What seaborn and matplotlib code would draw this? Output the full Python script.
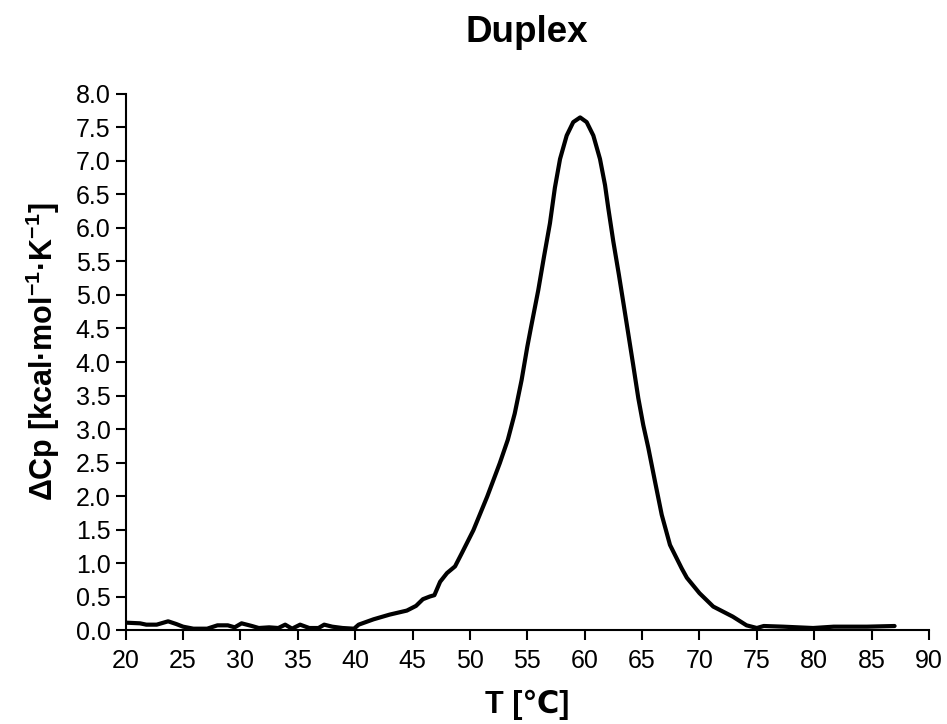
#!/usr/bin/env python3
"""DSC melting curve of the duplex: excess heat capacity vs temperature."""

import matplotlib

matplotlib.use("Agg")
import matplotlib.pyplot as plt
import pandas as pd
import seaborn as sns

# values
temperature = [
    20.0, 21.25, 21.8, 22.7, 23.7, 24.4, 25.0, 25.9, 27.1, 28.0, 28.9, 29.5,
    30.1, 31.0, 31.6, 32.5, 33.3, 33.9, 34.5, 35.2, 36.0, 36.8, 37.3, 38.0,
    38.9, 39.9, 40.3, 41.6, 43.0, 44.5, 45.3, 45.9, 46.5, 46.9, 47.4, 48.0,
    48.7, 49.3, 50.3, 51.5, 52.6, 53.3, 53.9, 54.5, 55.0, 55.3, 55.95, 56.45,
    56.97, 57.4, 57.85, 58.43, 59.0, 59.6, 60.17, 60.75, 61.33, 61.77, 62.05,
    62.49, 62.98, 63.39, 63.76, 64.22, 64.67, 65.1, 65.54, 66.12, 66.71,
    67.43, 68.45, 68.9, 70.0, 71.2, 72.9, 74.1, 75.0, 75.6, 77.3, 79.9, 81.7,
    84.6, 87.0,
]
delta_cp = [
    0.11, 0.10, 0.08, 0.08, 0.13, 0.09, 0.05, 0.02, 0.02, 0.07, 0.07, 0.04,
    0.10, 0.06, 0.03, 0.04, 0.03, 0.08, 0.02, 0.08, 0.03, 0.03, 0.08, 0.05,
    0.03, 0.02, 0.08, 0.16, 0.23, 0.29, 0.36, 0.46, 0.50, 0.52, 0.72, 0.85,
    0.95, 1.15, 1.49, 1.99, 2.49, 2.84, 3.23, 3.73, 4.23, 4.50, 5.07, 5.57,
    6.07, 6.60, 7.03, 7.38, 7.58, 7.65, 7.58, 7.38, 7.03, 6.64, 6.30,
    5.80, 5.30, 4.86, 4.46, 3.96, 3.46, 3.06, 2.72, 2.22, 1.72,
    1.27, 0.92, 0.78, 0.55, 0.35, 0.20, 0.07, 0.03, 0.06, 0.05, 0.03, 0.05,
    0.05, 0.06,
]
x_ticks = list(range(20, 91, 5))
y_ticks = [i * 0.5 for i in range(17)]

df = pd.DataFrame({"T": temperature, "dCp": delta_cp})

sns.set_theme(style="ticks")
plt.rcParams["font.family"] = ["Liberation Sans", "DejaVu Sans"]
plt.rcParams["mathtext.fontset"] = "custom"
plt.rcParams["mathtext.rm"] = "Liberation Sans"
plt.rcParams["mathtext.bf"] = "Liberation Sans:bold"
plt.rcParams["mathtext.default"] = "bf"
plt.rcParams["text.color"] = "black"
plt.rcParams["axes.labelcolor"] = "black"

fig = plt.figure(figsize=(9.47, 7.24), dpi=100)
ax = fig.add_axes([0.1327, 0.1298, 0.981 - 0.1327, 0.8702 - 0.1298])

sns.lineplot(data=df, x="T", y="dCp", color="black", linewidth=3.0,
             estimator=None, sort=False, ax=ax)
ax.lines[0].set_solid_joinstyle("round")
ax.lines[0].set_solid_capstyle("round")

ax.set_xlim(20, 90)
ax.set_ylim(0, 8)
ax.set_xticks(x_ticks)
ax.set_yticks(y_ticks)
ax.set_yticklabels([f"{v:.1f}" for v in y_ticks])
ax.tick_params(axis="both", direction="out", length=7, width=1.5,
               labelsize=18, colors="black")
ax.tick_params(axis="x", pad=7)
ax.tick_params(axis="y", pad=4)

for side in ("top", "right"):
    ax.spines[side].set_visible(False)
for side in ("left", "bottom"):
    ax.spines[side].set_linewidth(1.5)
    ax.spines[side].set_color("black")

ax.set_xlabel("T [℃]", fontsize=22, fontweight="bold", labelpad=12)
ax.set_ylabel(r"ΔCp [kcal·mol$^{-1}$·K$^{-1}$]", fontsize=22,
              fontweight="bold", labelpad=10)
ax.yaxis.label.set_y(0.52)
fig.text(0.556, 0.955, "Duplex", fontsize=26.5, fontweight="bold",
         ha="center", va="center")

fig.savefig("out.png", dpi=100)
